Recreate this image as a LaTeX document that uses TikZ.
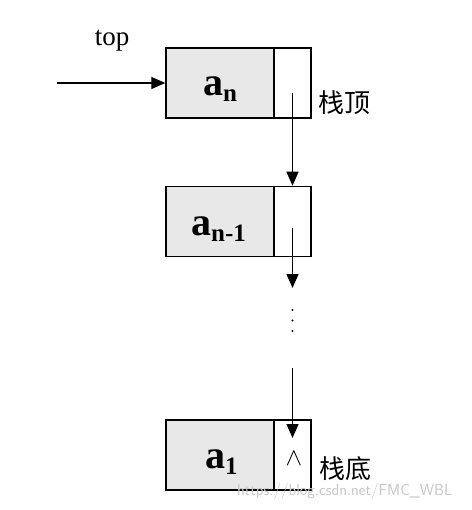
\documentclass[tikz,border=0pt]{standalone}
\usepackage{fontspec}
\setmainfont{Liberation Serif}
\newfontfamily\cjk{Noto Sans CJK SC}
\usetikzlibrary{arrows.meta}
\newcommand{\cellsub}[1]{\raisebox{-6pt}{\fontsize{25}{25}\selectfont #1}}
\begin{document}
\begin{tikzpicture}[x=1pt,y=-1pt,
  datacell/.style={draw,line width=1.5pt,fill=black!9,minimum width=108pt,minimum height=70pt,inner sep=0pt},
  celltext/.style={font=\fontsize{40}{42}\selectfont\bfseries,anchor=base west,inner sep=0pt},
  ptrcell/.style={draw,line width=1.5pt,fill=white,minimum width=37pt,minimum height=70pt,inner sep=0pt},
  link/.style={line width=1.3pt,-{Triangle[length=14pt,width=12pt]}},
  lbl/.style={font=\cjk\fontsize{26}{28}\selectfont,anchor=west,inner sep=0pt}]
\useasboundingbox (0,0) rectangle (471,510);
% top node
\node[datacell] (n1) at (220,83) {};
\node[celltext] (t1) at (203,96) {a\cellsub{n}};
\node[ptrcell] (p1) at (292.5,83) {};
\node[font=\fontsize{27}{29}\selectfont,inner sep=0pt] (top) at (112,41) {top};
\coordinate (tin) at (57,83);
\draw[link] (tin) -- (n1.west);
\node[lbl] (sd) at (318,103) {栈顶};
% second node
\node[datacell] (n2) at (220,221.5) {};
\node[celltext] (t2) at (191,235) {a\cellsub{n-1}};
\node[ptrcell] (p2) at (292.5,221.5) {};
% bottom node
\node[datacell] (n3) at (220,455) {};
\node[celltext] (t3) at (205,468) {a\cellsub{1}};
\node[ptrcell] (p3) at (292.5,455) {};
\node[font=\fontsize{27}{27}\selectfont,inner sep=0pt] (nil) at (294,459) {$\wedge$};
\node[lbl] (sb) at (319,469) {栈底};
% links
\coordinate (s1) at (292.5,93);
\draw[link] (s1) -- (p2.north);
\coordinate (s2) at (292.5,228);
\coordinate (e2) at (292.5,288);
\draw[link] (s2) -- (e2);
\foreach \yy [count=\i] in {310,320.5,331}
  \fill (292.5,\yy) circle (1.2pt) coordinate (d\i);
\coordinate (s3) at (292.5,368);
\coordinate (e3) at (292.5,438);
\draw[link] (s3) -- (e3);
% watermark
\node[font=\fontsize{16}{17}\selectfont\sffamily,text=black!22,anchor=west,inner sep=0pt] (wm) at (237,491) {https://blog.csdn.net/FMC\_WBL};
\end{tikzpicture}
\end{document}
